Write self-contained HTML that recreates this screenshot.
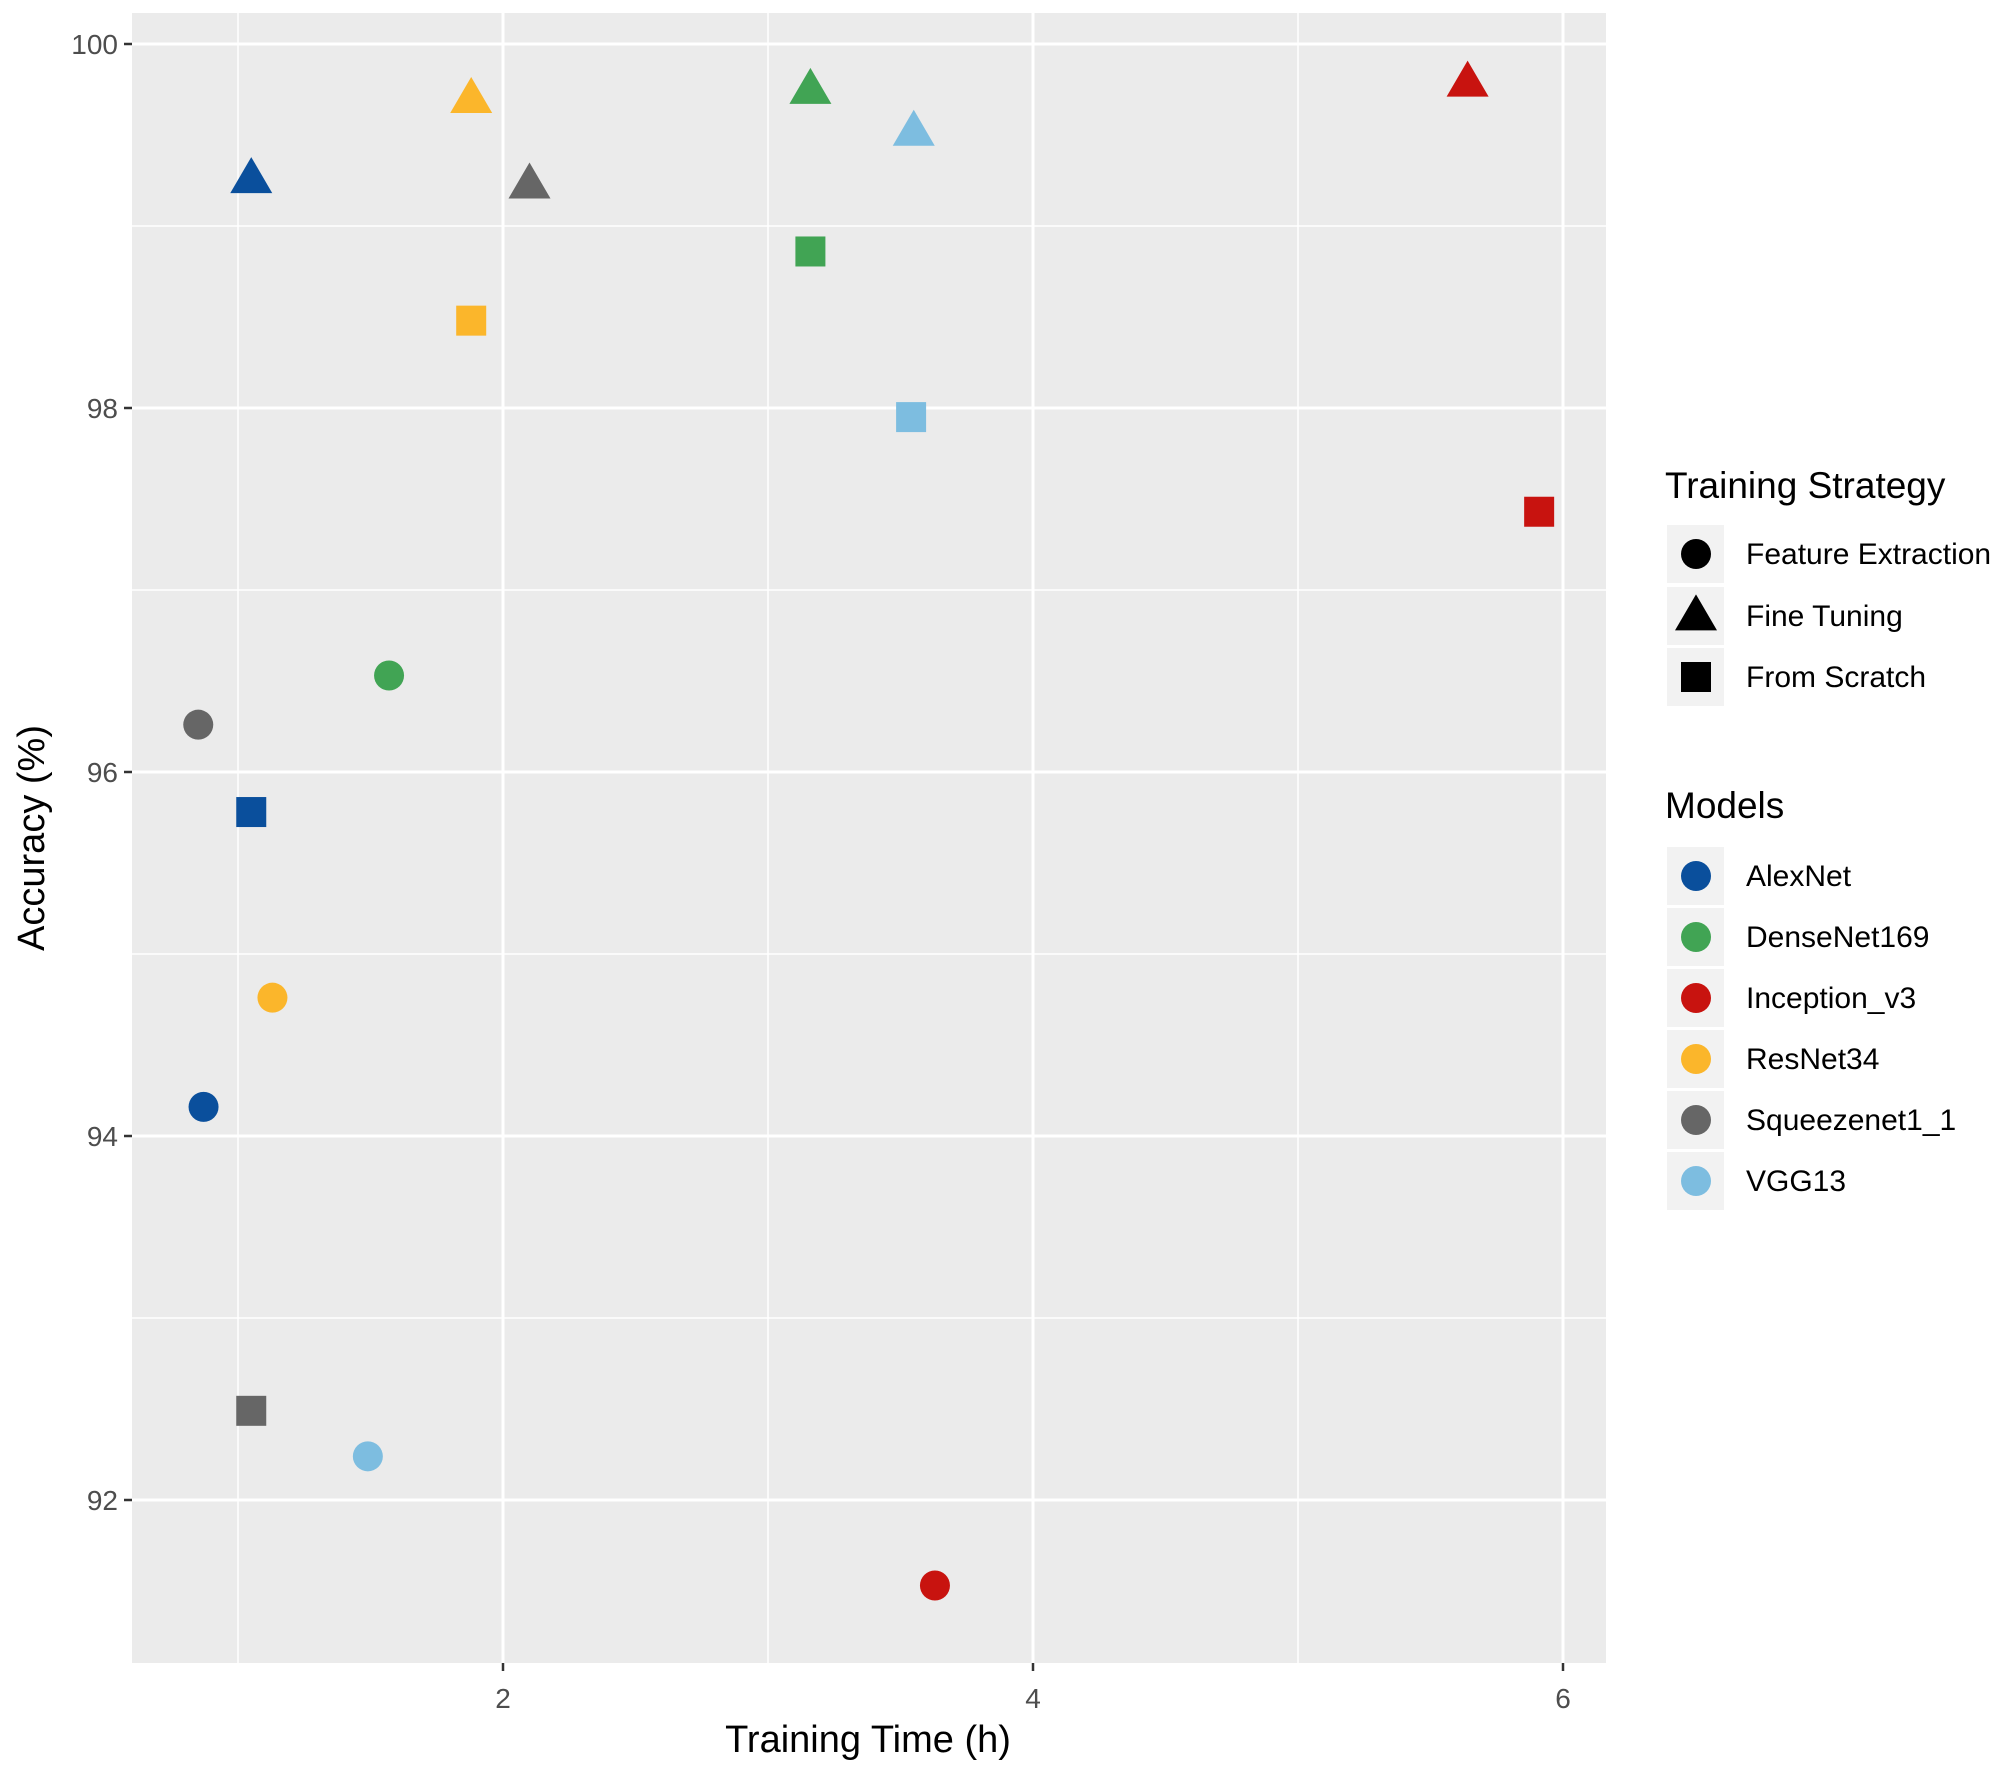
<!DOCTYPE html>
<html><head><meta charset="utf-8"><style>
html,body{margin:0;padding:0;background:#fff;}
svg{display:block;font-family:"Liberation Sans",sans-serif;}
</style></head><body>
<svg id="chart" width="2008" height="1774" viewBox="0 0 2008 1774" xmlns="http://www.w3.org/2000/svg">
<rect x="132" y="13" width="1474" height="1650" fill="#ebebeb"/>
<g id="grid"></g>
<g id="axes"></g>
<g id="points"></g>
<text x="868" y="1752" font-size="38" text-anchor="middle" fill="#000">Training Time (h)</text>
<text transform="translate(44,838) rotate(-90)" font-size="38" text-anchor="middle" fill="#000">Accuracy (%)</text>
<g id="legend"></g>
</svg>
<script>
const models = ["AlexNet","DenseNet169","Inception_v3","ResNet34","Squeezenet1_1","VGG13"];
const colors = ["#0a4f9c","#41a454","#c8130f","#fbb62b","#666666","#7dbde0"];
const strategies = ["Feature Extraction","Fine Tuning","From Scratch"];
const shapes = ["circle","triangle","square"];
const timeFE = [0.87,1.57,3.63,1.13,0.85,1.49];
const accFE  = [94.16,96.53,91.53,94.76,96.26,92.24];
const timeFT = [1.05,3.16,5.64,1.88,2.10,3.55];
const accFT  = [99.26,99.75,99.79,99.70,99.23,99.52];
const timeFS = [1.05,3.16,5.91,1.88,1.05,3.54];
const accFS  = [95.78,98.86,97.43,98.48,92.49,97.95];
const xTicks = [2,4,6];
const yTicks = [92,94,96,98,100];
const xMinor = [1,3,5];
const yMinor = [93,95,97,99];

const NS="http://www.w3.org/2000/svg";
const X0=132,X1=1606,Y0=13,Y1=1663;
function xs(v){return 503+(v-2)*265;}
function ys(v){return 44+(100-v)*182;}
function mk(tag,attrs,parent){const e=document.createElementNS(NS,tag);for(const k in attrs)e.setAttribute(k,attrs[k]);parent.appendChild(e);return e;}
const grid=document.getElementById('grid'),axes=document.getElementById('axes'),pts=document.getElementById('points'),leg=document.getElementById('legend');
xMinor.forEach(v=>{const l=mk('line',{x1:xs(v),x2:xs(v),y1:Y0,y2:Y1,stroke:'#fff','stroke-width':1.5},grid);

});
yMinor.forEach(v=>{const l=mk('line',{x1:X0,x2:X1,y1:ys(v),y2:ys(v),stroke:'#fff','stroke-width':1.5},grid);

});
xTicks.forEach(v=>{const l=mk('line',{x1:xs(v),x2:xs(v),y1:Y0,y2:Y1,stroke:'#fff','stroke-width':3},grid);


const t=mk('line',{x1:xs(v),x2:xs(v),y1:Y1,y2:Y1+8,stroke:'#333','stroke-width':2.5},axes);


const tx=mk('text',{x:xs(v),y:1708,'font-size':28,'text-anchor':'middle',fill:'#4d4d4d'},axes);tx.textContent=v;

});
yTicks.forEach(v=>{const l=mk('line',{x1:X0,x2:X1,y1:ys(v),y2:ys(v),stroke:'#fff','stroke-width':3},grid);


const t=mk('line',{x1:X0-8,x2:X0,y1:ys(v),y2:ys(v),stroke:'#333','stroke-width':2.5},axes);


const tx=mk('text',{x:X0-14,y:ys(v)+10,'font-size':28,'text-anchor':'end',fill:'#4d4d4d'},axes);tx.textContent=v;

});
function shape(kind,cx,cy,color,parent,scale){
  scale=scale||1;let e;
  if(kind==='circle')e=mk('circle',{cx:cx,cy:cy,r:15*scale,fill:color},parent);
  else if(kind==='triangle'){const s=21*scale,h=36*scale;e=mk('polygon',{points:`${cx},${cy-h*0.6} ${cx-s},${cy+h*0.4} ${cx+s},${cy+h*0.4}`,fill:color},parent);}
  else e=mk('rect',{x:cx-15*scale,y:cy-15*scale,width:30*scale,height:30*scale,fill:color},parent);
  return e;}
const sets=[[timeFE,accFE],[timeFT,accFT],[timeFS,accFS]];
sets.forEach((s,si)=>{models.forEach((m,mi)=>{
  const e=shape(shapes[si],xs(s[0][mi]),ys(s[1][mi]),colors[mi],pts);
  
  });});
function ltext(x,y,size,str,name){const t=mk('text',{x:x,y:y,'font-size':size,fill:'#000'},leg);t.textContent=str;

return t;}
ltext(1665,498,37,'Training Strategy','legend-title-strategy');
const sRows=[554,616,677];
strategies.forEach((s,i)=>{const b=mk('rect',{x:1667,y:sRows[i]-29,width:57,height:58,fill:'#f2f2f2'},leg);


const e=shape(shapes[i],1696,sRows[i],'#000',leg);


ltext(1746,sRows[i]+10,30,s,'legend-entry-strategy');});
ltext(1665,818,37,'Models','legend-title-models');
const mRows=[876,937,998,1059,1120,1181];
models.forEach((m,i)=>{const b=mk('rect',{x:1667,y:mRows[i]-29,width:57,height:58,fill:'#f2f2f2'},leg);


const e=shape('circle',1696,mRows[i],colors[i],leg);


ltext(1746,mRows[i]+10,30,m,'legend-entry-model');});
</script>
</body></html>
